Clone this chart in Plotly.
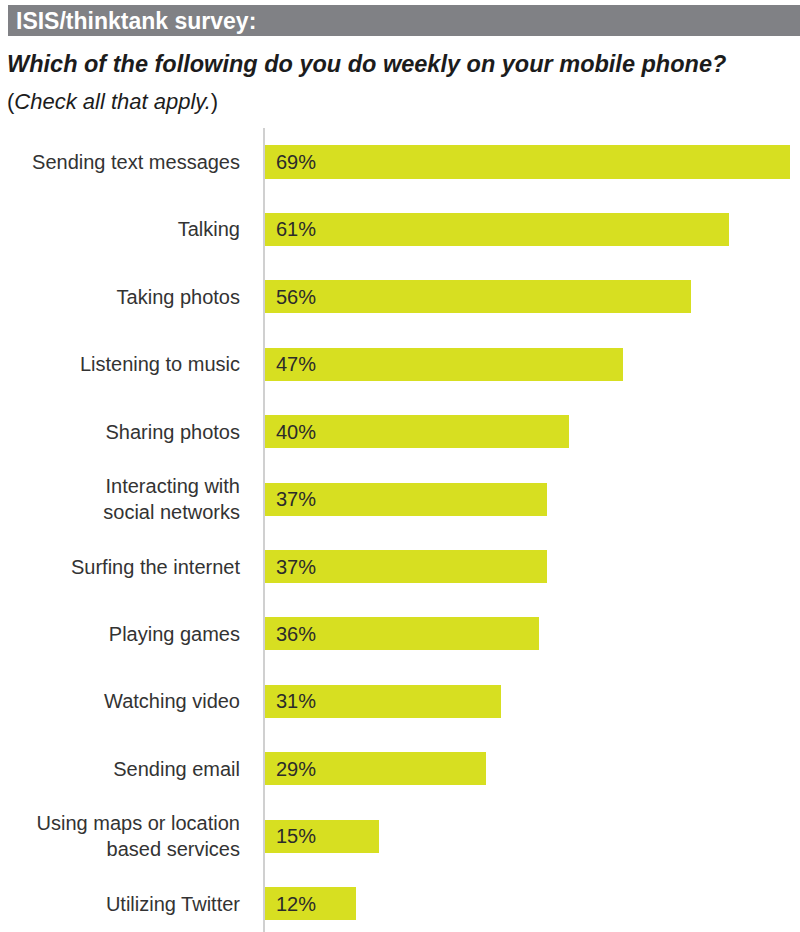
import plotly.graph_objects as go

# Survey answers, top to bottom
activities = [
    "Sending text messages",
    "Talking",
    "Taking photos",
    "Listening to music",
    "Sharing photos",
    "Interacting with<br>social networks",
    "Surfing the internet",
    "Playing games",
    "Watching video",
    "Sending email",
    "Using maps or location<br>based services",
    "Utilizing Twitter",
]
shares = [69, 61, 56, 47, 40, 37, 37, 36, 31, 29, 15, 12]

W, H = 800, 932
BAR = "#D7DF21"
HEADER = "#808185"
FONT = "Liberation Sans, Arial, Helvetica, sans-serif"

fig = go.Figure(
    go.Bar(
        x=shares,
        y=list(range(len(activities))),
        orientation="h",
        marker=dict(color=BAR, line=dict(width=0)),
        width=0.49,
        hoverinfo="skip",
    )
)

# value labels inside the bars, near the baseline
for i, v in enumerate(shares):
    fig.add_annotation(
        x=0, y=i, xref="x", yref="y", text=f"{v}%", showarrow=False,
        xanchor="left", yanchor="middle", xshift=9,
        font=dict(family=FONT, size=20, color="#2b2b2b"),
    )

# header band
fig.add_shape(type="rect", xref="paper", yref="paper",
              x0=8 / W, x1=1, y0=1 - 36 / H, y1=1 - 5 / H,
              fillcolor=HEADER, line=dict(width=0), layer="below")
fig.add_annotation(xref="paper", yref="paper", x=14 / W, y=1 - 20.5 / H,
                   xanchor="left", yanchor="middle", showarrow=False,
                   text="<b>ISIS/thinktank survey:</b>",
                   font=dict(family=FONT, size=23, color="white"))
fig.add_annotation(xref="paper", yref="paper", x=5 / W, y=1 - 64 / H,
                   xanchor="left", yanchor="middle", showarrow=False,
                   text="<b><i>Which of the following do you do weekly on your mobile phone?</i></b>",
                   font=dict(family=FONT, size=23.5, color="#1c1c1c"))
fig.add_annotation(xref="paper", yref="paper", x=5 / W, y=1 - 101 / H,
                   xanchor="left", yanchor="middle", showarrow=False,
                   text="(<i>Check all that apply.</i>)",
                   font=dict(family=FONT, size=22, color="#1c1c1c"))

fig.update_layout(
    width=W, height=H, autosize=False,
    margin=dict(l=0, r=0, t=0, b=0),
    paper_bgcolor="white", plot_bgcolor="white",
    showlegend=False,
    bargap=0,
    xaxis=dict(domain=[265 / W, 790 / W], range=[0, 69], visible=False, fixedrange=True),
    yaxis=dict(
        domain=[0, 1 - 128 / H],
        range=[11.42, -0.504],
        tickmode="array",
        tickvals=list(range(len(activities))),
        ticktext=activities,
        tickfont=dict(family=FONT, size=20, color="#333333"),
        ticks="", ticklabelstandoff=19,
        showgrid=False, zeroline=False,
        showline=True, linecolor="#d0d0d0", linewidth=2,
        fixedrange=True,
    ),
)

fig.write_html("out.html")
